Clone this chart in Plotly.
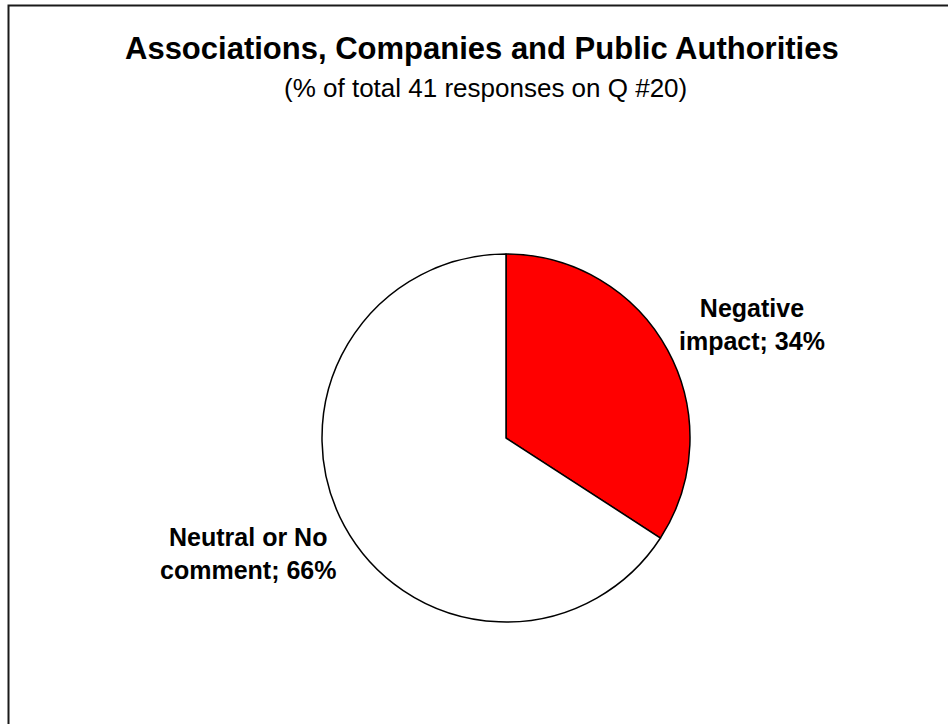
import plotly.graph_objects as go

# Survey answers to question 20 (41 responses in total)
categories = ["Negative impact", "Neutral or No comment"]
counts = [14, 27]
slice_colors = ["#FF0000", "#FFFFFF"]

title_text = "Associations, Companies and Public Authorities"
subtitle_text = "(% of total 41 responses on Q #20)"

W, H = 948, 724
total = sum(counts)
shares = [round(100 * c / total) for c in counts]


def px_x(x):
    return x / W


def px_y(y):
    return 1 - y / H


fig = go.Figure()
fig.add_trace(go.Pie(
    labels=categories,
    values=counts,
    sort=False,
    direction="clockwise",
    rotation=0,
    marker=dict(colors=slice_colors, line=dict(color="#000000", width=1.5)),
    textinfo="none",
    hoverinfo="label+percent",
    showlegend=False,
    domain=dict(x=[px_x(322), px_x(690)], y=[px_y(622), px_y(254)]),
))

FONT = "Arial, Liberation Sans, sans-serif"
label_font = dict(family=FONT, size=25, color="#000000")
label_pos = [(752, 325), (248, 553)]
annotations = []
for (cx, cy), name, pct in zip(label_pos, ["Negative<br>impact", "Neutral or No<br>comment"], shares):
    annotations.append(dict(
        x=px_x(cx), y=px_y(cy), xref="paper", yref="paper",
        text=f"<b>{name}; {pct}%</b>", showarrow=False,
        font=label_font, align="center", xanchor="center", yanchor="middle",
    ))

annotations.append(dict(
    x=px_x(482), y=px_y(48), xref="paper", yref="paper",
    text=f"<b>{title_text}</b>", showarrow=False,
    font=dict(family=FONT, size=31, color="#000000"),
    xanchor="center", yanchor="middle",
))
annotations.append(dict(
    x=px_x(486), y=px_y(88), xref="paper", yref="paper",
    text=subtitle_text, showarrow=False,
    font=dict(family=FONT, size=26, color="#000000"),
    xanchor="center", yanchor="middle",
))

fig.update_layout(
    width=W, height=H,
    margin=dict(l=0, r=0, t=0, b=0),
    paper_bgcolor="#FFFFFF",
    plot_bgcolor="#FFFFFF",
    annotations=annotations,
    shapes=[dict(
        type="rect", xref="paper", yref="paper",
        x0=px_x(8.5), x1=1.2, y0=-0.2, y1=px_y(5.5),
        line=dict(color="#1a1a1a", width=2), fillcolor="rgba(0,0,0,0)",
    )],
)

fig.write_html("out.html")
